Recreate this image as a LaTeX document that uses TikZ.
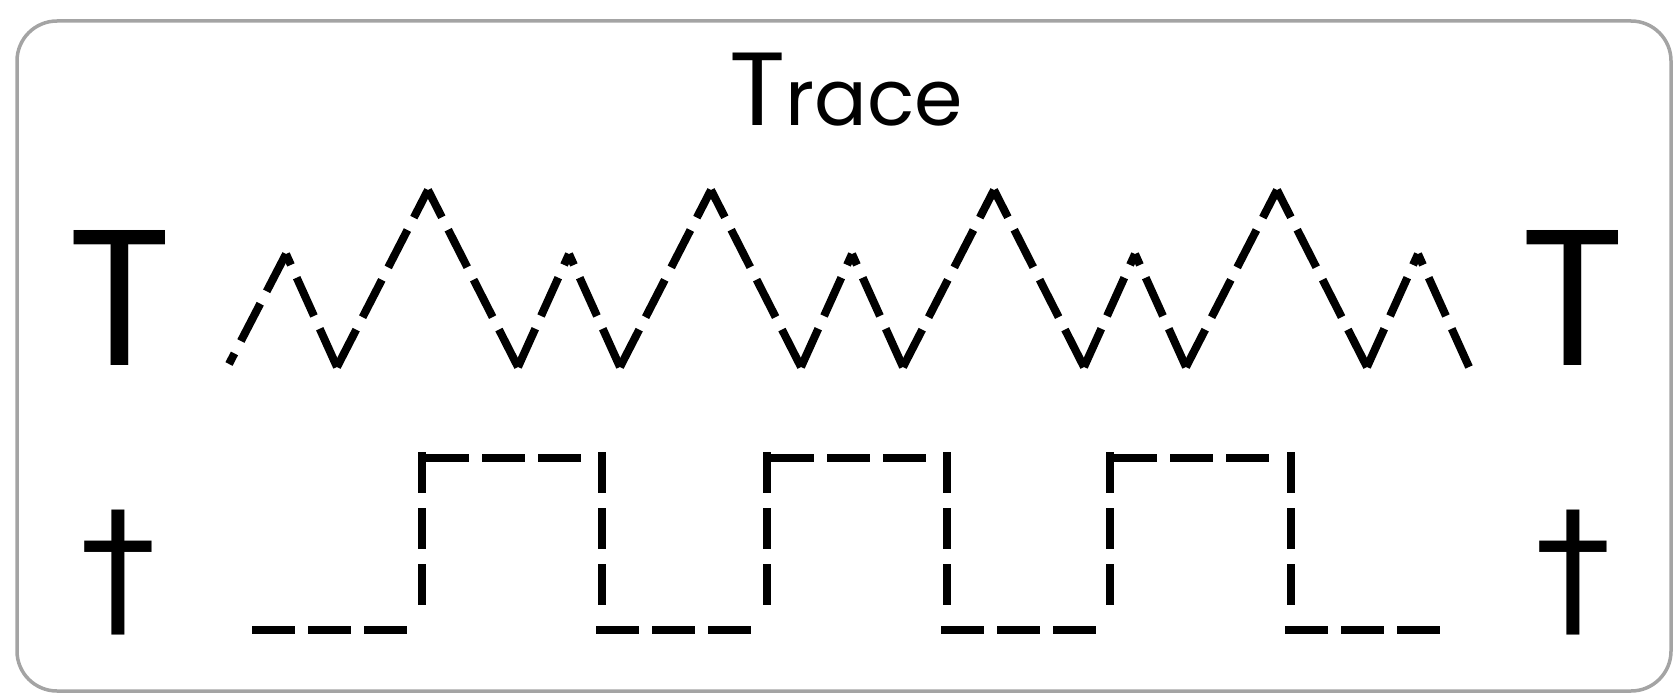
\documentclass[tikz,border=0pt]{standalone}
\usepackage{graphicx}
\usepackage{fontspec}
\setmainfont{Poppins}
\newfontfamily\glyphfont{DejaVu Sans}
\definecolor{framegray}{HTML}{A4A4A4}
\begin{document}
\begin{tikzpicture}[x=1pt,y=-1pt,
  frame/.style={draw=framegray,line width=3.5pt,rounded corners=40pt},
  tri/.style={line width=8pt,dash pattern=on 42pt off 14pt,line join=round},
  hseg/.style={line width=8pt,dash pattern=on 43pt off 13pt},
  vseg/.style={line width=8pt,dash pattern=on 41pt off 15pt},
  bigglyph/.style={inner sep=0pt,outer sep=0pt,anchor=center}]
\useasboundingbox (0,0) rectangle (1675,693);
\draw[frame] (17,21) rectangle (1671,691);
% title
\node[inner sep=0pt,anchor=base] (title) at (846,125)
  {{\fontsize{104}{104}\selectfont T}{\fontsize{78}{78}\selectfont race}};
% side glyphs
\node[bigglyph] (tl) at (119.5,297.5) {\resizebox*{!}{135pt}{T}};
\node[bigglyph] (tr) at (1573,297.5) {\resizebox*{!}{135pt}{T}};
\node[bigglyph] (dl) at (118,572.5) {\resizebox*{!}{125pt}{\glyphfont †}};
\node[bigglyph] (dr) at (1573,572.5) {\resizebox*{!}{125pt}{\glyphfont †}};
% triangle trace
\coordinate (p0) at (229,364);
\coordinate (s0) at (286,254);
\draw[tri] (s0) -- (p0);
\coordinate (v0) at (337,367);
\draw[tri] (v0) -- (s0);
\foreach \k in {0,...,3}{
  \pgfmathsetmacro\v{337+283*\k}
  \coordinate (va\k) at (\v,367);
  \coordinate (bp\k) at (\v+91,190);
  \coordinate (vb\k) at (\v+181,367);
  \coordinate (sp\k) at (\v+232,254);
  \coordinate (vc\k) at (\v+283,367);
  \draw[tri] (va\k) -- (bp\k);
  \draw[tri] (vb\k) -- (bp\k);
  \draw[tri] (vb\k) -- (sp\k);
  \draw[tri] (vc\k) -- (sp\k);
}
% square trace
\coordinate (l0a) at (252,630);
\coordinate (l0b) at (407,630);
\draw[hseg] (l0a) -- (l0b);
\foreach \xr/\xf [count=\i] in {422/602,767/947,1110/1291}{
  \coordinate (ra\i) at (\xr,452);
  \coordinate (rb\i) at (\xr,605);
  \coordinate (ha\i) at (\xr+4,458);
  \coordinate (hb\i) at (\xr+159,458);
  \coordinate (fa\i) at (\xf,452);
  \coordinate (fb\i) at (\xf,605);
  \coordinate (la\i) at (\xf-6,630);
  \coordinate (lb\i) at (\xf+149,630);
  \draw[vseg] (ra\i) -- (rb\i);
  \draw[hseg] (ha\i) -- (hb\i);
  \draw[vseg] (fa\i) -- (fb\i);
  \draw[hseg] (la\i) -- (lb\i);
}
\end{tikzpicture}
\end{document}
